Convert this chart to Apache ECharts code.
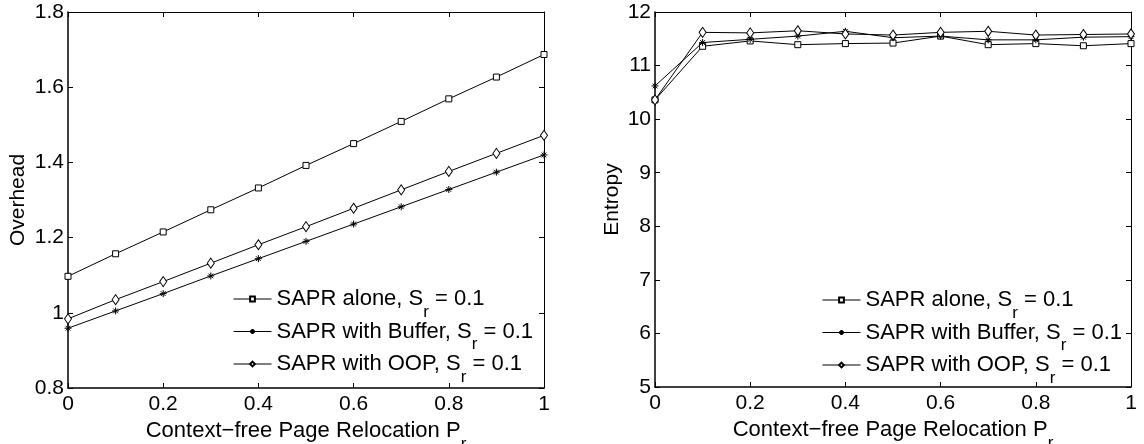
<!DOCTYPE html>
<html>
<head>
<meta charset="utf-8">
<script src="https://cdn.jsdelivr.net/npm/echarts@6/dist/echarts.min.js"></script>
<style>
  html, body { margin: 0; padding: 0; background: #fff; }
  #main { width: 1144px; height: 444px; }
</style>
</head>
<body>
<div id="main"></div>
<script>
    "use strict";

    var FONT = "Liberation Sans, Arial, Helvetica, sans-serif";

    // x values: context-free page relocation P_r
    var relocation = [0, 0.1, 0.2, 0.3, 0.4, 0.5, 0.6, 0.7, 0.8, 0.9, 1];

    var seriesNames = ["SAPR alone", "SAPR with Buffer", "SAPR with OOP"];
    var srValue = "0.1";

    // left panel: overhead
    var overheadAlone = [1.097, 1.157, 1.215, 1.274, 1.332, 1.392, 1.450, 1.509, 1.569, 1.627, 1.687];
    var overheadBuffer = [0.959, 1.005, 1.051, 1.098, 1.144, 1.190, 1.236, 1.282, 1.328, 1.374, 1.420];
    var overheadOOP = [0.984, 1.035, 1.083, 1.132, 1.181, 1.229, 1.278, 1.327, 1.376, 1.424, 1.472];

    // right panel: entropy
    var entropyAlone = [10.36, 11.36, 11.46, 11.39, 11.41, 11.42, 11.55, 11.39, 11.41, 11.37, 11.41];
    var entropyBuffer = [10.62, 11.43, 11.49, 11.55, 11.64, 11.52, 11.55, 11.48, 11.48, 11.53, 11.54];
    var entropyOOP = [10.36, 11.62, 11.61, 11.65, 11.59, 11.57, 11.62, 11.64, 11.57, 11.58, 11.59];

    // tick labels
    var xTicks = [0, 0.2, 0.4, 0.6, 0.8, 1];
    var overheadTicks = [0.8, 1, 1.2, 1.4, 1.6, 1.8];
    var entropyTicks = [5, 6, 7, 8, 9, 10, 11, 12];

    var STAR = "path://M0,5L10,5M5,0L5,10M1.6,1.6L8.4,8.4M8.4,1.6L1.6,8.4";
    var markers = [
        { symbol: "rect", size: 6, fill: "#fff" },
        { symbol: STAR, size: 7, fill: "#000" },
        { symbol: "diamond", size: [7, 10], fill: "#fff" }
    ];

    var richText = {
        t: { fontFamily: FONT, fontSize: 22, color: "#000" },
        s: { fontFamily: FONT, fontSize: 17, color: "#000", padding: [26, 0, 0, 0] }
    };

    function pairs(xs, ys) {
        return xs.map(function (x, i) { return [x, ys[i]]; });
    }

    function makeAxes(gridIndex, ticks, isX) {
        var step = +(ticks[1] - ticks[0]).toFixed(6);
        var base = {
            gridIndex: gridIndex,
            type: "value",
            min: ticks[0],
            max: ticks[ticks.length - 1],
            interval: step,
            splitLine: { show: false },
            axisLine: { show: true, onZero: false, lineStyle: { color: "#000", width: 1 } },
            axisTick: { show: true, inside: true, length: 5, lineStyle: { color: "#000" } }
        };
        var main = Object.assign({}, base, {
            position: isX ? "bottom" : "left",
            axisLine: { show: true, onZero: false, lineStyle: { color: "#000", width: 1.5 } },
            axisLabel: {
                color: "#000", fontFamily: FONT, fontSize: 21, margin: isX ? 6 : 4,
                showMinLabel: true, showMaxLabel: true
            }
        });
        var mirror = Object.assign({}, base, {
            position: isX ? "top" : "right",
            axisLabel: { show: false }
        });
        return [main, mirror];
    }

    var myChart = echarts.init(document.getElementById("main"));

    var xAxes = [], yAxes = [];
    [0, 1].forEach(function (g) {
        var xa = makeAxes(g, xTicks, true);
        xa[0].name = "{t|Context\u2212free Page Relocation P}{s|r}";
        xa[0].nameLocation = "middle";
        xa[0].nameGap = 20;
        xa[0].nameTextStyle = { rich: richText };
        xAxes.push(xa[0], xa[1]);

        var ya = makeAxes(g, g === 0 ? overheadTicks : entropyTicks, false);
        ya[0].name = g === 0 ? "Overhead" : "Entropy";
        ya[0].nameLocation = "middle";
        ya[0].nameGap = g === 0 ? 39 : 32;
        ya[0].nameTextStyle = { color: "#000", fontFamily: FONT, fontSize: 21 };
        yAxes.push(ya[0], ya[1]);
    });

    var leftData = [overheadAlone, overheadBuffer, overheadOOP];
    var rightData = [entropyAlone, entropyBuffer, entropyOOP];
    var series = [];
    [leftData, rightData].forEach(function (set, g) {
        set.forEach(function (vals, i) {
            series.push({
                name: seriesNames[i],
                type: "line",
                xAxisIndex: g * 2,
                yAxisIndex: g * 2,
                data: pairs(relocation, vals),
                symbol: markers[i].symbol,
                symbolSize: markers[i].size,
                showAllSymbol: true,
                lineStyle: { color: "#000", width: 1 },
                itemStyle: { color: markers[i].fill, borderColor: "#000", borderWidth: 1 },
                emphasis: { disabled: true },
                z: 3 + i
            });
        });
    });

    function legendAt(left, top) {
        return {
            orient: "vertical",
            left: left,
            top: top,
            itemWidth: 38,
            itemHeight: 6,
            itemGap: 0,
            selectedMode: false,
            data: seriesNames,
            lineStyle: { width: 1, color: "#000" },
            formatter: function (name) {
                return "{t|" + name + ", S}{s|r}{t| = " + srValue + "}";
            },
            textStyle: { rich: richText }
        };
    }

    var option = {
        backgroundColor: "#fff",
        animation: false,
        grid: [
            { left: 68, right: 600, top: 12, bottom: 56, outerBoundsMode: "none" },
            { left: 655, right: 13, top: 12, bottom: 57, outerBoundsMode: "none" }
        ],
        xAxis: xAxes,
        yAxis: yAxes,
        legend: [legendAt(228, 283), legendAt(817, 284)],
        series: series
    };

    myChart.setOption(option);
    window.myChart = myChart;
</script>
</body>
</html>
